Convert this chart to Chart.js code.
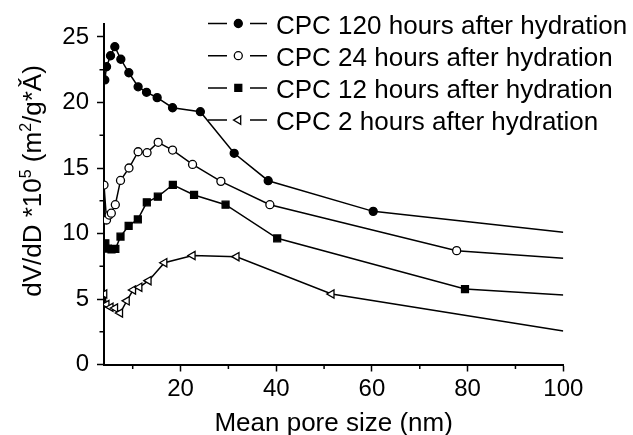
<!DOCTYPE html>
<html><head><meta charset="utf-8">
<script src="https://cdn.jsdelivr.net/npm/chart.js@4.4.1/dist/chart.umd.min.js"></script>
<style>html,body{margin:0;padding:0;background:#fff}#wrap{width:633px;height:435px;position:relative}</style>
</head><body><div id="wrap"><canvas id="c"></canvas></div>
<script>
// ---- data ----
const seriesNames = ['CPC 120 hours after hydration','CPC 24 hours after hydration','CPC 12 hours after hydration','CPC 2 hours after hydration'];
const x120 = [4.17,4.53,5.36,6.26,7.52,9.19,11.13,12.89,15.11,18.33,24.14,31.21,38.32,60.27,100];
const y120 = [21.72,22.73,23.57,24.26,23.3,22.27,21.2,20.78,20.37,19.6,19.3,16.12,14.03,11.69,10.09];
const x24 = [4.0,4.53,5.07,5.53,6.37,7.45,9.22,11.13,13.0,15.32,18.33,22.51,28.43,38.67,77.71,100];
const y24 = [13.7,11.03,11.41,11.55,12.2,14.05,15.0,16.24,16.17,16.96,16.37,15.27,13.98,12.2,8.69,8.11];
const x12 = [4.28,4.8,5.57,6.37,7.45,9.15,11.07,12.95,15.25,18.39,22.82,29.41,40.2,79.45,100];
const y12 = [9.25,8.85,8.78,8.82,9.76,10.59,11.08,12.38,12.81,13.72,12.94,12.2,9.63,5.76,5.31];
const x2 = [4.07,4.53,5.38,6.33,7.37,8.77,10.09,11.41,13.33,16.63,22.53,31.71,51.57,100];
const y2 = [5.38,4.58,4.37,4.31,3.93,4.86,5.69,5.9,6.4,7.77,8.32,8.23,5.38,2.56];
const xTicks = [20,40,60,80,100];
const xMinorTicks = [10,30,50,70,90];
const yTicks = [0,5,10,15,20,25];
const yMinorTicks = [2.5,7.5,12.5,17.5,22.5];
const xTitle = 'Mean pore size (nm)';
const yTitleParts = [['dV/dD *10',false],['5',true],[' (m',false],['2',true],['/g*\u01CD)',false]];

const FONT = '"Liberation Sans", Arial, Helvetica, sans-serif';
const styles = [
  {pointStyle:'circle', r:4, bg:'#000', rot:0},
  {pointStyle:'circle', r:4, bg:'#fff', rot:0},
  {pointStyle:'rect', r:4.9, bg:'#000', rot:0},
  {pointStyle:'triangle', r:4.8, bg:'#fff', rot:-90}
];
const xs_ = [x120,x24,x12,x2], ys_ = [y120,y24,y12,y2];

const datasets = seriesNames.map((name,i)=>{
  const xv = xs_[i], yv = ys_[i], st = styles[i];
  return {
    label:name,
    data: xv.map((x,k)=>({x:x,y:yv[k]})),
    borderColor:'#000', borderWidth:1.5, tension:0,
    pointStyle:st.pointStyle, pointRotation:st.rot,
    pointBackgroundColor:st.bg, pointBorderColor:'#000', pointBorderWidth:1.3,
    pointRadius: c => c.dataIndex === xv.length-1 ? 0 : st.r,
    fill:false
  };
});

function drawMarker(ctx, st, x, y){
  ctx.save();
  ctx.fillStyle = st.bg; ctx.strokeStyle='#000'; ctx.lineWidth=1.3;
  ctx.beginPath();
  if(st.pointStyle==='circle'){ ctx.arc(x,y,st.r,0,Math.PI*2); }
  else if(st.pointStyle==='rect'){ const s=st.r*Math.SQRT1_2; ctx.rect(x-s,y-s,2*s,2*s); }
  else { const r=st.r; let a=st.rot*Math.PI/180;
    ctx.moveTo(x+Math.sin(a)*r, y-Math.cos(a)*r); a+=2*Math.PI/3;
    ctx.lineTo(x+Math.sin(a)*r, y-Math.cos(a)*r); a+=2*Math.PI/3;
    ctx.lineTo(x+Math.sin(a)*r, y-Math.cos(a)*r); ctx.closePath(); }
  ctx.fill(); ctx.stroke(); ctx.restore();
}

const decor = {
  id:'decor',
  afterDraw(chart){
    const ctx = chart.ctx, xs = chart.scales.x, ys = chart.scales.y, ca = chart.chartArea;
    ctx.save();
    ctx.strokeStyle='#000'; ctx.lineWidth=1.5;
    ctx.beginPath();
    xMinorTicks.forEach(v=>{const p=xs.getPixelForValue(v); ctx.moveTo(p, ca.bottom); ctx.lineTo(p, ca.bottom+4.5);});
    yMinorTicks.forEach(v=>{const p=ys.getPixelForValue(v); ctx.moveTo(ca.left, p); ctx.lineTo(ca.left-4.5, p);});
    ctx.stroke();
    // legend
    ctx.font = '26px '+FONT; ctx.fillStyle='#000'; ctx.textBaseline='alphabetic'; ctx.textAlign='left';
    seriesNames.forEach((name,i)=>{
      const y = 23.5 + i*32.2;
      ctx.beginPath(); ctx.lineWidth=1.5;
      ctx.moveTo(208,y); ctx.lineTo(227,y); ctx.moveTo(250,y); ctx.lineTo(267,y); ctx.stroke();
      drawMarker(ctx, styles[i], 238.3, y);
      ctx.fillText(name, 276, y + 10.3);
    });
    // x title
    ctx.textAlign='center';
    ctx.fillText(xTitle, (ca.left+ca.right)/2, 430.5);
    // y title
    ctx.save();
    ctx.translate(40.7, 181); ctx.rotate(-Math.PI/2);
    const big='26px '+FONT, small='16px '+FONT;
    let total=0;
    yTitleParts.forEach(([t,sup])=>{ctx.font = sup?small:big; total += ctx.measureText(t).width;});
    let pos=-total/2; ctx.textAlign='left';
    yTitleParts.forEach(([t,sup])=>{ctx.font = sup?small:big; ctx.fillText(t,pos, sup?-10:0); pos += ctx.measureText(t).width;});
    ctx.restore();
    ctx.restore();
  }
};

new Chart(document.getElementById('c'), {
  type:'line',
  data:{datasets:datasets},
  plugins:[decor],
  options:{
    responsive:true, maintainAspectRatio:false, animation:false, events:[],
    layout:{padding:{left:0, right:69.7, top:23.9, bottom:0}},
    plugins:{legend:{display:false}, tooltip:{enabled:false}},
    scales:{
      x:{type:'linear', min:4, max:100,
        afterBuildTicks: s => { s.ticks = xTicks.map(v=>({value:v})); },
        afterFit: s => { s.height = 70.5; },
        grid:{display:true, drawOnChartArea:false, drawTicks:true, tickLength:7, tickWidth:1.5, tickColor:'#000'},
        border:{display:true, color:'#000', width:2},
        ticks:{color:'#000', padding:3, font:{family:FONT, size:24}, maxRotation:0}
      },
      y:{type:'linear', min:0, max:26,
        afterBuildTicks: s => { s.ticks = yTicks.map(v=>({value:v})); },
        afterFit: s => { s.width = 104; },
        grid:{display:true, drawOnChartArea:false, drawTicks:true, tickLength:7, tickWidth:1.5, tickColor:'#000'},
        border:{display:true, color:'#000', width:2},
        ticks:{color:'#000', padding:8, font:{family:FONT, size:24}}
      }
    }
  }
});
</script></body></html>
